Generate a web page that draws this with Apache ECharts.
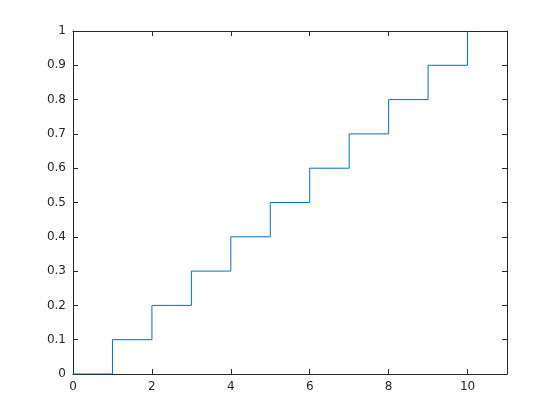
<!DOCTYPE html>
<html><head><meta charset="utf-8">
<script src="https://cdn.jsdelivr.net/npm/echarts@6/dist/echarts.min.js"></script>
<style>html,body{margin:0;padding:0;background:#fff}#c{width:560px;height:420px}</style>
</head><body><div id="c"></div>
<script>
const xValues = [0, 1, 2, 3, 4, 5, 6, 7, 8, 9, 10];
const yValues = [0, 0.1, 0.2, 0.3, 0.4, 0.5, 0.6, 0.7, 0.8, 0.9, 1.0];

const axisColor = '#262626';
const font = {color: axisColor, fontFamily: 'DejaVu Sans', fontSize: 12};
const lineStyle = {color: axisColor, width: 1};

const chart = echarts.init(document.getElementById('c'), null, {renderer: 'canvas'});
chart.setOption({
  animation: false,
  backgroundColor: '#fff',
  grid: {left: 73, right: 53, top: 31, bottom: 46},
  xAxis: [
    {type: 'value', min: 0, max: 11, interval: 2, position: 'bottom',
     axisLine: {show: true, onZero: false, lineStyle}, axisTick: {show: true, inside: true, length: 5, lineStyle},
     axisLabel: Object.assign({margin: 7, showMaxLabel: false, formatter: v => (v > 10 ? '' : String(v))}, font),
     splitLine: {show: false}},
    {type: 'value', min: 0, max: 11, interval: 2, position: 'top',
     axisLine: {show: true, onZero: false, lineStyle}, axisTick: {show: true, inside: true, length: 5, lineStyle},
     axisLabel: {show: false}, splitLine: {show: false}}
  ],
  yAxis: [
    {type: 'value', min: 0, max: 1, interval: 0.1, position: 'left',
     axisLine: {show: true, onZero: false, lineStyle}, axisTick: {show: true, inside: true, length: 5, lineStyle},
     axisLabel: Object.assign({margin: 7, formatter: v => String(Math.round(v * 10) / 10)}, font),
     splitLine: {show: false}},
    {type: 'value', min: 0, max: 1, interval: 0.1, position: 'right',
     axisLine: {show: true, onZero: false, lineStyle}, axisTick: {show: true, inside: true, length: 5, lineStyle},
     axisLabel: {show: false}, splitLine: {show: false}}
  ],
  series: [{
    type: 'line',
    step: 'end',
    data: xValues.map((x, i) => [x, yValues[i]]),
    showSymbol: false,
    symbol: 'none',
    lineStyle: {color: '#0072BD', width: 1},
    z: 1
  }]
});
</script></body></html>
